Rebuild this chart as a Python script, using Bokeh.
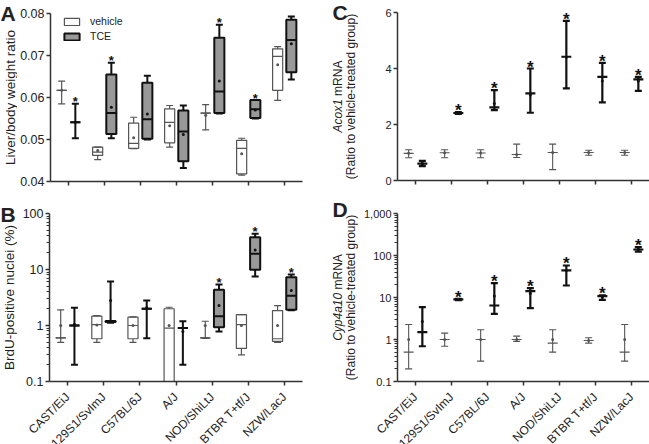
import math
import numpy as np
from bokeh.plotting import figure
from bokeh.models import (ColumnDataSource, Range1d, FixedTicker, LabelSet,
                          Legend, LegendItem, NumeralTickFormatter)
from bokeh.layouts import row, column
from bokeh.embed import file_html
from bokeh.resources import INLINE
from bokeh.core.properties import value

# ---------------- data ----------------
strains = ["CAST/EiJ", "129S1/SvImJ", "C57BL/6J", "A/J", "NOD/ShiLtJ", "BTBR T+tf/J", "NZW/LacJ"]

# Panel A: liver/body weight ratio (box plots)
liver_veh_min  = [0.0585, 0.0452, 0.0478, 0.0482, 0.0523, 0.0415, 0.0593]
liver_veh_q1   = [0.0617, 0.0462, 0.0479, 0.0492, 0.0563, 0.0418, 0.0617]
liver_veh_med  = [0.0617, 0.0470, 0.0491, 0.0541, 0.0563, 0.0479, 0.0698]
liver_veh_q3   = [0.0617, 0.0482, 0.0539, 0.0573, 0.0563, 0.0498, 0.0716]
liver_veh_max  = [0.0639, 0.0482, 0.0553, 0.0581, 0.0583, 0.0503, 0.0721]
liver_veh_mean = [0.0617, 0.0474, 0.0504, 0.0533, 0.0558, 0.0466, 0.0678]
liver_tce_min  = [0.0503, 0.0503, 0.0500, 0.0432, 0.0562, 0.0550, 0.0643]
liver_tce_q1   = [0.0541, 0.0513, 0.0502, 0.0448, 0.0563, 0.0551, 0.0660]
liver_tce_med  = [0.0541, 0.0563, 0.0548, 0.0519, 0.0614, 0.0572, 0.0737]
liver_tce_q3   = [0.0541, 0.0655, 0.0635, 0.0569, 0.0742, 0.0594, 0.0785]
liver_tce_max  = [0.0585, 0.0683, 0.0652, 0.0581, 0.0773, 0.0594, 0.0793]
liver_tce_mean = [0.0541, 0.0577, 0.0561, 0.0512, 0.0639, 0.0570, 0.0728]
liver_star     = [1, 1, 0, 0, 1, 1, 0]

# Panel B: BrdU-positive nuclei (%) (box plots, log)
brdu_veh_min  = [0.50, 0.50, 0.50, 0.05, 0.59, 0.30, 0.50]
brdu_veh_q1   = [0.60, 0.58, 0.58, 0.05, 0.60, 0.39, 0.52]
brdu_veh_med  = [0.60, 1.04, 1.00, 0.90, 0.60, 1.04, 0.58]
brdu_veh_q3   = [0.60, 1.47, 1.41, 1.99, 0.60, 1.57, 1.85]
brdu_veh_max  = [1.90, 1.50, 1.43, 2.12, 1.19, 1.57, 2.27]
brdu_veh_mean = [1.00, 1.02, 1.00, 1.00, 1.00, 1.00, 1.00]
brdu_tce_min  = [0.20, 1.12, 0.59, 0.20, 0.78, 7.5, 1.88]
brdu_tce_q1   = [1.00, 1.15, 1.99, 0.90, 0.93, 9.87, 1.91]
brdu_tce_med  = [1.00, 1.18, 1.99, 0.90, 1.47, 19.1, 3.40]
brdu_tce_q3   = [1.00, 1.20, 1.99, 0.90, 4.34, 37.8, 7.30]
brdu_tce_max  = [2.07, 6.10, 2.80, 1.19, 5.40, 43.4, 8.10]
brdu_tce_mean = [1.05, 2.80, 2.10, 0.78, 2.27, 22.4, 4.20]
brdu_star     = [0, 0, 0, 0, 1, 1, 1]

# Panel C: Acox1 mRNA (ratio to vehicle)
acox_veh_low  = [0.81, 0.81, 0.81, 0.82, 0.39, 0.90, 0.90]
acox_veh_mid  = [0.97, 0.99, 0.98, 0.93, 1.00, 1.00, 1.00]
acox_veh_high = [1.10, 1.10, 1.10, 1.30, 1.30, 1.08, 1.08]
acox_tce_low  = [0.51, 2.38, 2.51, 2.42, 3.29, 2.79, 3.20]
acox_tce_mid  = [0.60, 2.41, 2.61, 3.11, 4.42, 3.70, 3.61]
acox_tce_high = [0.70, 2.44, 3.23, 4.00, 5.70, 4.20, 3.70]
acox_tce_dot  = [0.60, 2.41, 2.75, 3.05, 4.40, 3.55, 3.55]
acox_star     = [0, 1, 1, 1, 1, 1, 1]

# Panel D: Cyp4a10 mRNA (ratio to vehicle, log)
cyp_veh_low  = [0.20, 0.69, 0.305, 0.90, 0.50, 0.82, 0.305]
cyp_veh_mid  = [0.50, 1.00, 1.00, 1.00, 0.82, 0.95, 0.50]
cyp_veh_high = [2.27, 1.42, 1.70, 1.20, 1.70, 1.10, 2.27]
cyp_veh_dot  = [1.00, 1.00, 1.00, 1.00, 1.00, 0.95, 1.00]
cyp_tce_low  = [0.69, 8.7, 4.08, 5.57, 19.3, 8.8, 124]
cyp_tce_mid  = [1.50, 9.0, 6.45, 14.2, 44.0, 10.8, 139]
cyp_tce_high = [5.90, 9.3, 21.9, 16.7, 57.8, 11.2, 158]
cyp_tce_dot  = [2.70, 9.0, 10.8, 12.5, 44.0, 10.3, 139]
cyp_star     = [0, 1, 1, 1, 1, 1, 1]

# ---------------- style ----------------
FONT = "Liberation Sans"
TXT = "#222222"
TCE_FILL = "#999999"
VEH_LINE = "#555555"
TCE_LINE = "#111111"
OFF = 0.19
xi = np.arange(len(strains))
x_veh = xi - OFF
x_tce = xi + OFF
V = math.pi / 2


def no_align(f):
    try:
        f.frame_align = False
    except Exception:
        pass


def make_fig(width, height, left, right, top, bottom, y_range, y_type="linear"):
    p = figure(width=width, height=height, x_range=Range1d(-0.5, 6.5), y_range=y_range,
               y_axis_type=y_type, toolbar_location=None, output_backend="svg", title=None,
               min_border_left=left, min_border_right=right,
               min_border_top=top, min_border_bottom=bottom)
    no_align(p)
    p.outline_line_color = None
    p.xgrid.visible = False
    p.ygrid.visible = False
    for ax in p.axis:
        ax.axis_line_width = 1.5
        ax.axis_line_color = "#333333"
        ax.major_tick_line_color = "#333333"
        ax.major_tick_line_width = 1.5
        ax.major_tick_out = 4
        ax.major_tick_in = 0
        ax.minor_tick_line_color = "#333333"
        ax.minor_tick_out = 3
        ax.minor_tick_in = 0
        ax.major_label_text_font = FONT
        ax.major_label_text_color = TXT
        ax.major_label_standoff = 2
    # category ticks without labels (names are drawn in the strip below)
    p.xaxis.ticker = FixedTicker(ticks=[], minor_ticks=list(range(len(strains))))
    p.xaxis.minor_tick_out = 4
    p.xaxis.minor_tick_line_width = 1.5
    p.xaxis.major_label_standoff = 0
    return p


def text_fig(w, h, x_range=None):
    f = figure(width=w, height=h, x_range=x_range if x_range is not None else Range1d(0, w),
               y_range=Range1d(0, h), title=None,
               min_border_left=0, min_border_right=0, min_border_top=0, min_border_bottom=0,
               toolbar_location=None, output_backend="svg",
               x_axis_location=None, y_axis_location=None)
    no_align(f)
    f.outline_line_color = None
    for g in f.grid:
        g.visible = False
    return f


def put(f, x, y, text, size, angle=0.0, style="normal", align="center", baseline="middle"):
    f.text(x=[x], y=[y], text=[text], angle=angle, text_font=value(FONT),
           text_font_size=value(size), text_font_style=style, text_color=TXT,
           text_align=align, text_baseline=baseline)


def draw_boxes(p, x, mn, q1, med, q3, mx, mean, fill, color, lw):
    src = ColumnDataSource(dict(x=list(x), mn=mn, q1=q1, med=med, q3=q3, mx=mx, mean=mean))
    p.segment(x0="x", y0="mn", x1="x", y1="mx", source=src, line_color=color, line_width=lw)
    r = p.vbar(x="x", width=0.28, bottom="q1", top="q3", source=src,
               fill_color=fill, line_color=color, line_width=lw)
    p.scatter(x="x", y="med", source=src, marker="dash", size=10, line_color=color, line_width=lw)
    p.scatter(x="x", y="mn", source=src, marker="dash", size=7, line_color=color, line_width=lw)
    p.scatter(x="x", y="mx", source=src, marker="dash", size=7, line_color=color, line_width=lw)
    p.scatter(x="x", y="mean", source=src, marker="circle", size=3, fill_color=color, line_color=None)
    return r


def draw_bars(p, x, low, mid, high, dot, color, lw):
    src = ColumnDataSource(dict(x=list(x), low=low, mid=mid, high=high, dot=dot))
    p.segment(x0="x", y0="low", x1="x", y1="high", source=src, line_color=color, line_width=lw)
    p.scatter(x="x", y="low", source=src, marker="dash", size=7, line_color=color, line_width=lw)
    p.scatter(x="x", y="high", source=src, marker="dash", size=7, line_color=color, line_width=lw)
    p.scatter(x="x", y="mid", source=src, marker="dash", size=10, line_color=color, line_width=lw)
    p.scatter(x="x", y="dot", source=src, marker="circle", size=3, fill_color=color, line_color=None)


def add_stars(p, x, tops, flags, size, yoff):
    idx = [i for i, f in enumerate(flags) if f]
    src = ColumnDataSource(dict(x=[x[i] for i in idx], y=[tops[i] for i in idx], t=["*"] * len(idx)))
    p.add_layout(LabelSet(x="x", y="y", text="t", source=src, text_align="center",
                          text_baseline="alphabetic", y_offset=yoff,
                          text_font=value(FONT), text_font_size=size, text_font_style="bold",
                          text_color=TCE_LINE))


def name_strip(width, height, frame_left, frame_width, y):
    # strip under a panel; its x range continues the panel's category scale
    ppc = frame_width / len(strains)
    start = -0.5 - frame_left / ppc
    f = text_fig(width, height, Range1d(start, start + width / ppc))
    f.text(x=list(xi), y=[y] * len(strains), text=strains, angle=math.pi / 4,
           text_font=value(FONT), text_font_size=value("12px"), text_color=TXT,
           text_align="right", text_baseline="middle")
    return f


log_minor_b = [m * d for d in (0.1, 1, 10) for m in range(2, 10)]
log_minor_d = [m * d for d in (0.1, 1, 10, 100) for m in range(2, 10)]

# ---------------- Panel A ----------------
pA = make_fig(301, 190, 32, 16, 13, 9, Range1d(0.04, 0.08))
pA.yaxis.ticker = FixedTicker(ticks=[0.04, 0.05, 0.06, 0.07, 0.08], minor_ticks=[])
pA.yaxis.formatter = NumeralTickFormatter(format="0.00")
pA.yaxis.major_label_text_font_size = "12.5px"
rv = draw_boxes(pA, x_veh, liver_veh_min, liver_veh_q1, liver_veh_med, liver_veh_q3,
                liver_veh_max, liver_veh_mean, "white", VEH_LINE, 1.2)
rt = draw_boxes(pA, x_tce, liver_tce_min, liver_tce_q1, liver_tce_med, liver_tce_q3,
                liver_tce_max, liver_tce_mean, TCE_FILL, TCE_LINE, 2)
add_stars(pA, list(x_tce), liver_tce_max, liver_star, "13px", -2.5)
legend = Legend(items=[LegendItem(label="vehicle", renderers=[rv]),
                       LegendItem(label="TCE", renderers=[rt])],
                location=(12, 138), orientation="vertical", glyph_width=19, glyph_height=9,
                label_height=14, spacing=1, padding=0, margin=0, border_line_color=None,
                background_fill_alpha=0, label_text_font=FONT, label_text_font_size="10.5px",
                label_text_color=TXT, label_standoff=9)
pA.add_layout(legend)
tA = text_fig(17, 190)
put(tA, 0, 177.5, "A", "21px", style="bold", align="left")
put(tA, 10, 93, "Liver/body weight ratio", "13.5px", angle=V)

# ---------------- Panel B ----------------
pB = make_fig(301, 199, 32, 16, 23, 8, Range1d(0.1, 100), y_type="log")
pB.yaxis.ticker = FixedTicker(ticks=[0.1, 1, 10, 100], minor_ticks=log_minor_b)
pB.yaxis.formatter = NumeralTickFormatter(format="0,0.[0]")
pB.yaxis.major_label_text_font_size = "12.5px"
draw_boxes(pB, x_veh, brdu_veh_min, brdu_veh_q1, brdu_veh_med, brdu_veh_q3,
           brdu_veh_max, brdu_veh_mean, "white", VEH_LINE, 1.2)
draw_boxes(pB, x_tce, brdu_tce_min, brdu_tce_q1, brdu_tce_med, brdu_tce_q3,
           brdu_tce_max, brdu_tce_mean, TCE_FILL, TCE_LINE, 2)
add_stars(pB, list(x_tce), brdu_tce_max, brdu_star, "13px", -2.5)
tB = text_fig(17, 199)
put(tB, 0, 175.5, "B", "21px", style="bold", align="left")
put(tB, 9, 92, "BrdU-positive nuclei (%)", "13.5px", angle=V)

# ---------------- Panel C ----------------
pC = make_fig(291, 190, 39, 0, 12, 10, Range1d(0, 6))
pC.yaxis.ticker = FixedTicker(ticks=[0, 2, 4, 6], minor_ticks=[])
pC.yaxis.formatter = NumeralTickFormatter(format="0")
pC.yaxis.major_label_text_font_size = "11px"
draw_bars(pC, x_veh, acox_veh_low, acox_veh_mid, acox_veh_high, acox_veh_mid, VEH_LINE, 1.1)
draw_bars(pC, x_tce, acox_tce_low, acox_tce_mid, acox_tce_high, acox_tce_dot, TCE_LINE, 2.2)
add_stars(pC, list(x_tce), acox_tce_high, acox_star, "17px", -4)
tC = text_fig(40, 190)
put(tC, 14, 178, "C", "21px", style="bold", align="left")
put(tC, 32, 94, "(Ratio to vehicle-treated group)", "12px", angle=V)
put(tC, 19, 91.3, "Acox1", "12px", angle=V, style="italic", align="right")
put(tC, 19, 94.6, "mRNA", "12px", angle=V, align="left")

# ---------------- Panel D ----------------
pD = make_fig(291, 199, 39, 0, 23, 8, Range1d(0.1, 1000), y_type="log")
pD.yaxis.ticker = FixedTicker(ticks=[0.1, 1, 10, 100, 1000], minor_ticks=log_minor_d)
pD.yaxis.formatter = NumeralTickFormatter(format="0,0.[0]")
pD.yaxis.major_label_text_font_size = "11px"
draw_bars(pD, x_veh, cyp_veh_low, cyp_veh_mid, cyp_veh_high, cyp_veh_dot, VEH_LINE, 1.1)
draw_bars(pD, x_tce, cyp_tce_low, cyp_tce_mid, cyp_tce_high, cyp_tce_dot, TCE_LINE, 2.2)
add_stars(pD, list(x_tce), cyp_tce_high, cyp_star, "17px", -4)
tD = text_fig(40, 199)
put(tD, 14, 180.5, "D", "21px", style="bold", align="left")
put(tD, 32, 92, "(Ratio to vehicle-treated group)", "12px", angle=V)
put(tD, 19, 96.7, "Cyp4a10", "12px", angle=V, style="italic", align="right")
put(tD, 19, 100, "mRNA", "12px", angle=V, align="left")

# strain names under B and D
sB = name_strip(318, 55, 49, 253, 49.5)
sD = name_strip(331, 55, 79, 252, 49.5)

layout = column(row(tA, pA, tC, pC), row(tB, pB, tD, pD), row(sB, sD))
open("out.html", "w").write(file_html(layout, INLINE))
